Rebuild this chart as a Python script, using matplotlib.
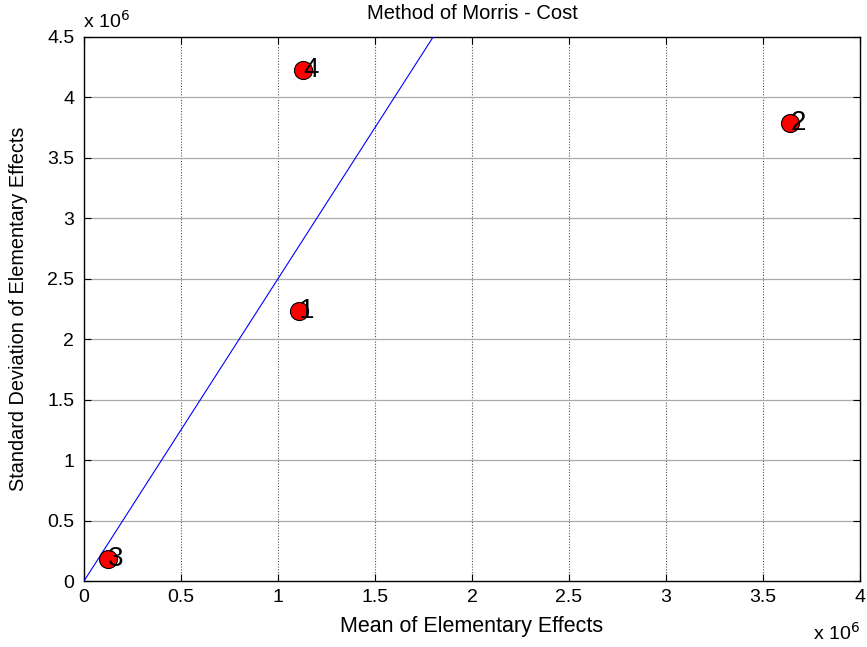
import matplotlib
matplotlib.use("Agg")
import matplotlib.pyplot as plt
import numpy as np

plt.rcParams['font.family'] = ['Liberation Sans', 'DejaVu Sans']

labels = ['1', '2', '3', '4']
mean_ee = [1.11e6, 3.64e6, 0.125e6, 1.13e6]
std_ee = [2.23e6, 3.79e6, 0.18e6, 4.23e6]
line_x = [0.0, 1.8e6]
line_y = [0.0, 4.5e6]
xticks = [0, 0.5, 1, 1.5, 2, 2.5, 3, 3.5, 4]
yticks = [0, 0.5, 1, 1.5, 2, 2.5, 3, 3.5, 4, 4.5]

fig = plt.figure(figsize=(8.67, 6.47), dpi=100)
ax = fig.add_axes([0.0969, 0.102, 0.895, 0.841])

ax.plot(line_x, line_y, color='blue', lw=0.8, zorder=3)
ax.plot(mean_ee, std_ee, 'o', ms=13, mfc='red', mec='black', mew=0.8, zorder=4)
for lab, x, y in zip(labels, mean_ee, std_ee):
    ax.text(x, y, lab, fontsize=20, ha='left', va='center', zorder=6)

ax.set_xlim(0, 4e6)
ax.set_ylim(0, 4.5e6)
ax.set_xticks([t * 1e6 for t in xticks])
ax.set_xticklabels([('%g' % t) for t in xticks])
ax.set_yticks([t * 1e6 for t in yticks])
ax.set_yticklabels([('%g' % t) for t in yticks])
ax.tick_params(direction='in', top=True, right=True, labelsize=14, length=5, width=0.8)
ax.tick_params(axis='x', pad=6)
ax.tick_params(axis='y', pad=7)

for t in xticks[1:-1]:
    ax.axvline(t * 1e6, color='#555555', lw=0.8, ls=(0, (1, 1.5)), zorder=1)
for t in yticks[1:-1]:
    ax.axhline(t * 1e6, color='#aaaaaa', lw=0.9, zorder=1)

for s in ax.spines.values():
    s.set_linewidth(1.0)

ax.set_xlabel('Mean of Elementary Effects', fontsize=15.5, labelpad=7)
ax.set_ylabel('Standard Deviation of Elementary Effects', fontsize=14.3, labelpad=14)
ax.set_title('Method of Morris - Cost', fontsize=14.5, pad=13)

ax.text(-0.001, 1.01, r'x 10$^{6}$', transform=ax.transAxes, fontsize=14, ha='left', va='bottom')
ax.text(1.0, -0.075, r'x 10$^{6}$', transform=ax.transAxes, fontsize=14, ha='right', va='top')

fig.savefig('out.png', dpi=100)
